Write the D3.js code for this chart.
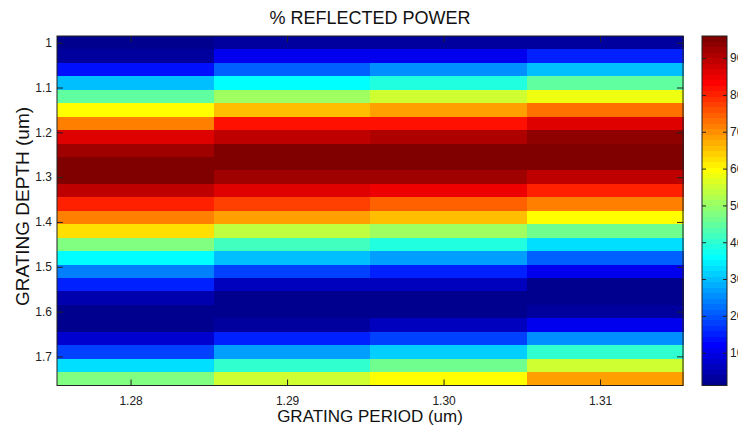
<!DOCTYPE html>
<meta charset="utf-8">
<script src="https://d3js.org/d3.v7.min.js"></script>
<style>
body { margin: 0; background: #fff; }
text { font-family: "Liberation Sans", Arial, sans-serif; }
</style>
<body>
<svg width="738" height="433"></svg>
<script>
// grating period (um), column centres
var periods = [1.2803, 1.2903, 1.3003, 1.3103];
// grating depth (um), row centres
var depths = [1.00, 1.03, 1.06, 1.09, 1.12, 1.15, 1.18, 1.21, 1.24, 1.27, 1.30, 1.33, 1.36,
              1.39, 1.42, 1.45, 1.48, 1.51, 1.54, 1.57, 1.60, 1.63, 1.66, 1.69, 1.72, 1.75];

// % reflected power, one array per period, top row first
var p128 = [2, 3.8, 13, 30, 45, 60, 72, 86.4, 92, 95.5, 95.5, 90, 81,
            72, 62, 48.4, 36.5, 24.6, 15.7, 5.4, 1, 1, 8.5, 18.7, 33, 48.4];
var p129 = [3.3, 10, 21.7, 36.5, 50.8, 65.5, 81.8, 90, 95.5, 95.5, 93, 86, 78,
            68.4, 54.3, 42.5, 30.6, 18.7, 6.8, 2, 1, 3.8, 15, 27, 41, 55];
var p130 = [3.3, 10.5, 25.4, 38.7, 55, 68.4, 82.5, 91, 95.5, 95.5, 93, 84.5, 75,
            65.5, 50.8, 39.5, 27.5, 15.7, 6.1, 1, 1, 6, 18.7, 31.4, 46, 60.3];
var p131 = [3.8, 15, 30, 44.6, 58.8, 72.8, 86.9, 94.5, 95.5, 95.5, 90, 81, 72,
            60, 46, 33, 21.7, 11.3, 2, 1, 3, 11, 25, 40, 55, 68.4];
var columns = [p128, p129, p130, p131];

var xTicks = [1.28, 1.29, 1.30, 1.31];
var yTicks = [1, 1.1, 1.2, 1.3, 1.4, 1.5, 1.6, 1.7];
var cTicks = [10, 20, 30, 40, 50, 60, 70, 80, 90];
var cLimits = [1.1, 96];

var pL = 57, pR = 683, pT = 36, pB = 385.5;
var svg = d3.select('svg');

// matlab jet(64)
function jet(t) {
    var c = function(v){ return Math.round(255 * Math.max(0, Math.min(1, v))); };
    return d3.rgb(c(1.5 - Math.abs(4*t - 3)), c(1.5 - Math.abs(4*t - 2)), c(1.5 - Math.abs(4*t - 1))).toString();
}
var jet64 = d3.range(1, 65).map(function(i){ return jet(i / 64); });

var x = d3.scaleLinear().domain([1.2753, 1.3153]).range([pL, pR]);
var y = d3.scaleLinear().domain([0.985, 1.765]).range([pT, pB]);
var color = d3.scaleQuantize().domain(cLimits).range(jet64);

var cells = [];
columns.forEach(function(col, i){
    col.forEach(function(v, j){ cells.push({p: periods[i], d: depths[j], v: v}); });
});

svg.append('g').selectAll('rect').data(cells).enter().append('rect')
    .attr('x', function(d){ return x(d.p - 0.005); })
    .attr('y', function(d){ return y(d.d - 0.015); })
    .attr('width', function(d){ return x(d.p + 0.005) - x(d.p - 0.005) + 0.5; })
    .attr('height', function(d){ return y(d.d + 0.015) - y(d.d - 0.015) + 0.5; })
    .attr('fill', function(d){ return color(d.v); })
    .attr('shape-rendering', 'crispEdges');

// axes, ticks inside on all four sides (matlab box)
var tl = 6;
svg.append('g').attr('transform', 'translate(0,' + pB + ')')
    .call(d3.axisBottom(x).tickValues(xTicks).tickSizeInner(-tl).tickSizeOuter(0).tickPadding(11).tickFormat(d3.format('.2f')));
svg.append('g').attr('transform', 'translate(0,' + pT + ')')
    .call(d3.axisTop(x).tickValues(xTicks).tickSizeInner(-tl).tickSizeOuter(0).tickFormat(''));
svg.append('g').attr('transform', 'translate(' + pL + ',0)')
    .call(d3.axisLeft(y).tickValues(yTicks).tickSizeInner(-tl).tickSizeOuter(0).tickPadding(5).tickFormat(d3.format('')));
svg.append('g').attr('transform', 'translate(' + pR + ',0)')
    .call(d3.axisRight(y).tickValues(yTicks).tickSizeInner(-tl).tickSizeOuter(0).tickFormat(''));

svg.append('rect').attr('x', pL).attr('y', pT).attr('width', pR - pL).attr('height', pB - pT)
    .attr('fill', 'none').attr('stroke', '#222').attr('stroke-width', 1);

// colorbar
var cbL = 702, cbR = 727;
var cy = d3.scaleLinear().domain(cLimits).range([pB, pT]);
var step = (cLimits[1] - cLimits[0]) / 64;
var bands = jet64.map(function(c, i){
    return {lo: cLimits[0] + i*step, hi: cLimits[0] + (i+1)*step, c: c};
});
svg.append('g').selectAll('rect').data(bands).enter().append('rect')
    .attr('x', cbL).attr('width', cbR - cbL)
    .attr('y', function(d){ return cy(d.hi); })
    .attr('height', function(d){ return cy(d.lo) - cy(d.hi) + 0.5; })
    .attr('fill', function(d){ return d.c; })
    .attr('shape-rendering', 'crispEdges');

svg.append('g').attr('transform', 'translate(' + cbR + ',0)')
    .call(d3.axisRight(cy).tickValues(cTicks).tickSizeInner(-4).tickSizeOuter(0).tickPadding(3));
svg.append('g').attr('transform', 'translate(' + cbL + ',0)')
    .call(d3.axisLeft(cy).tickValues(cTicks).tickSizeInner(-4).tickSizeOuter(0).tickFormat(''));
svg.append('rect').attr('x', cbL).attr('y', pT).attr('width', cbR - cbL).attr('height', pB - pT)
    .attr('fill', 'none').attr('stroke', '#222').attr('stroke-width', 1);

svg.selectAll('.domain').remove();
svg.selectAll('.tick line').attr('stroke', '#222');
svg.selectAll('.tick text').attr('font-size', 12).attr('fill', '#222')
    .style('font-family', '"Liberation Sans", Arial, sans-serif');

// labels
svg.append('text').attr('x', (pL + pR) / 2).attr('y', 24).attr('text-anchor', 'middle')
    .attr('font-size', 18).attr('fill', '#111').text('% REFLECTED POWER');
svg.append('text').attr('x', (pL + pR) / 2).attr('y', 422).attr('text-anchor', 'middle')
    .attr('font-size', 17).attr('fill', '#111').text('GRATING PERIOD (um)');
svg.append('text').attr('transform', 'translate(29,206.5) rotate(-90)')
    .attr('text-anchor', 'middle').attr('font-size', 19).attr('fill', '#111').text('GRATING DEPTH (um)');
</script>
</body>
